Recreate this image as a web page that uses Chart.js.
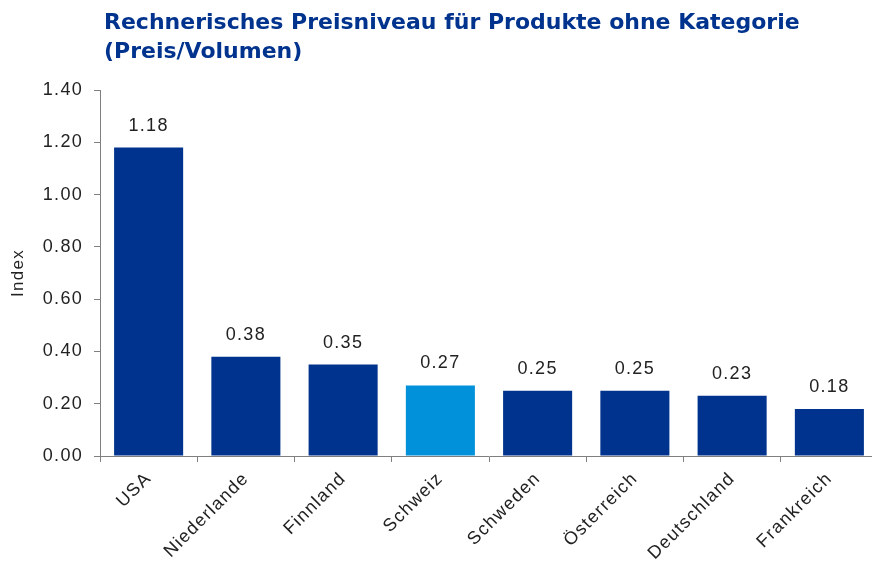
<!DOCTYPE html>
<html>
<head>
<meta charset="utf-8">
<script src="https://cdn.jsdelivr.net/npm/chart.js@4"></script>
<style>
  html, body { margin: 0; padding: 0; background: #fff; overflow: hidden; }
  #wrap { width: 880px; height: 564px; }
</style>
</head>
<body>
<div id="wrap"><canvas id="preisChart"></canvas></div>
<script>
const countries = ['USA', 'Niederlande', 'Finnland', 'Schweiz', 'Schweden', 'Österreich', 'Deutschland', 'Frankreich'];
const indexValues = [1.18, 0.38, 0.35, 0.27, 0.25, 0.25, 0.23, 0.18];
const highlight = 'Schweiz';
const titleLines = ['Rechnerisches Preisniveau für Produkte ohne Kategorie', '(Preis/Volumen)'];

const darkBlue = '#00338d';
const lightBlue = '#0091da';
const textColor = '#222';
const axisColor = '#808080';
const fontName = '"Liberation Sans", Arial, sans-serif';
const spacing = '1.3px';

var ctx = document.getElementById('preisChart');

// the reference font is wider than Arial, so we space the letters a bit
const spacingPlugin = {
    id: 'letterSpacing',
    beforeLayout(chart) { chart.ctx.letterSpacing = spacing; },
    beforeDraw(chart) { chart.ctx.letterSpacing = spacing; }
};

// title drawn left-aligned with the plot area
const titlePlugin = {
    id: 'leftTitle',
    afterDraw(chart) {
        const c = chart.ctx;
        c.save();
        c.letterSpacing = '0px';
        c.font = 'bold 22px "DejaVu Sans", sans-serif';
        c.fillStyle = darkBlue;
        c.textBaseline = 'alphabetic';
        c.textAlign = 'left';
        titleLines.forEach((line, i) => {
            c.fillText(line, chart.chartArea.left + 4, 29 + i * 29);
        });
        c.restore();
    }
};

// value labels above each bar
const valuePlugin = {
    id: 'valueLabels',
    afterDatasetsDraw(chart) {
        const c = chart.ctx;
        const meta = chart.getDatasetMeta(0);
        c.save();
        c.font = '18px ' + fontName;
        c.fillStyle = textColor;
        c.textAlign = 'center';
        c.textBaseline = 'alphabetic';
        meta.data.forEach((bar, i) => {
            c.fillText(indexValues[i].toFixed(2), bar.x, bar.y - 17);
        });
        c.restore();
    }
};

new Chart(ctx, {
    type: 'bar',
    data: {
        labels: countries,
        datasets: [{
            label: 'Index',
            data: indexValues,
            backgroundColor: countries.map(c => c === highlight ? lightBlue : darkBlue),
            borderWidth: 0,
            categoryPercentage: 1,
            barPercentage: 0.71
        }]
    },
    options: {
        responsive: true,
        maintainAspectRatio: false,
        animation: false,
        layout: { padding: { top: 90, right: 2, left: 0, bottom: 0 } },
        plugins: {
            legend: { display: false },
            tooltip: { enabled: false }
        },
        scales: {
            y: {
                min: 0,
                max: 1.4,
                afterFit: scale => { scale.width = 100; },
                ticks: {
                    stepSize: 0.2,
                    color: textColor,
                    font: { family: fontName, size: 18 },
                    padding: 11,
                    callback: v => v.toFixed(2)
                },
                grid: { drawOnChartArea: false, drawTicks: true, tickLength: 6, color: axisColor },
                border: { display: true, color: axisColor, width: 1 },
                title: {
                    display: true,
                    text: 'Index',
                    color: textColor,
                    font: { family: fontName, size: 17 },
                    padding: { top: 8, bottom: 0 }
                }
            },
            x: {
                afterFit: scale => { scale.height = 108; },
                ticks: {
                    color: textColor,
                    font: { family: fontName, size: 18 },
                    autoSkip: false,
                    minRotation: 45,
                    maxRotation: 45,
                    padding: 6
                },
                grid: { offset: true, drawOnChartArea: false, drawTicks: true, tickLength: 6, color: axisColor },
                border: { display: true, color: axisColor, width: 1 }
            }
        }
    },
    plugins: [spacingPlugin, titlePlugin, valuePlugin]
});
</script>
</body>
</html>
